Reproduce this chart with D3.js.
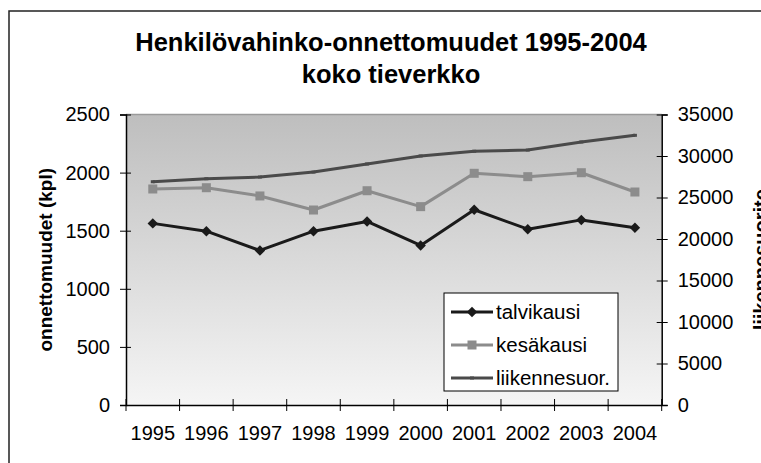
<!DOCTYPE html>
<html>
<head>
<meta charset="utf-8">
<script src="https://cdn.jsdelivr.net/npm/d3@7"></script>
<style>
  body { margin: 0; background: white; overflow: hidden; }
  svg { display: block; font-family: "Liberation Sans", Arial, sans-serif; }
</style>
</head>
<body>
<div id="chart"></div>
<script>
// data
const years = ["1995", "1996", "1997", "1998", "1999", "2000", "2001", "2002", "2003", "2004"];
const talvikausi = [1563, 1496, 1330, 1496, 1580, 1373, 1680, 1513, 1593, 1525];
const kesakausi = [1859, 1870, 1799, 1678, 1844, 1707, 1994, 1965, 1999, 1833];
const liikennesuorite = [26900, 27260, 27470, 28070, 29040, 30000, 30570, 30720, 31690, 32490];
const leftTicks = [0, 500, 1000, 1500, 2000, 2500];
const rightTicks = [0, 5000, 10000, 15000, 20000, 25000, 30000, 35000];
const legendNames = ["talvikausi", "kesäkausi", "liikennesuor."];

const W = 761, H = 463;
const margin = { top: 114.5, left: 126, right: 99.3, bottom: 58 };
const width = W - margin.left - margin.right,
  height = H - margin.top - margin.bottom;

const svg = d3.select("#chart").append("svg")
  .attr("width", W)
  .attr("height", H);

// outer chart border (runs past the right and bottom edge)
svg.append("rect")
  .attr("x", 9).attr("y", 11)
  .attr("width", W + 20).attr("height", H + 20)
  .attr("fill", "white")
  .attr("stroke", "#222")
  .attr("stroke-width", 1.5);

// title
const title = svg.append("text")
  .attr("text-anchor", "middle")
  .attr("font-weight", "bold")
  .attr("font-size", "25.5px")
  .attr("fill", "#000");
title.append("tspan").attr("x", 391).attr("y", 51).text("Henkilövahinko-onnettomuudet 1995-2004");
title.append("tspan").attr("x", 391).attr("y", 83).text("koko tieverkko");

const g = svg.append("g").attr("transform", `translate(${margin.left},${margin.top})`);

// plot background gradient
const grad = svg.append("defs").append("linearGradient")
  .attr("id", "bg").attr("x1", 0).attr("y1", 0).attr("x2", 0).attr("y2", 1);
grad.append("stop").attr("offset", "0%").attr("stop-color", "#bebebe");
grad.append("stop").attr("offset", "100%").attr("stop-color", "#f5f5f5");

g.append("rect")
  .attr("width", width).attr("height", height)
  .attr("fill", "url(#bg)");
g.append("line")
  .attr("x1", 0).attr("x2", width).attr("y1", 0).attr("y2", 0)
  .attr("stroke", "#9a9a9a").attr("stroke-width", 1.5);

// scales
const x = d3.scaleBand().domain(years).range([0, width]).padding(0);
const cx = d => x(d) + x.bandwidth() / 2;
const yL = d3.scaleLinear().domain([0, 2500]).range([height, 0]);
const yR = d3.scaleLinear().domain([0, 35000]).range([height, 0]);

// left axis
const axL = g.append("g")
  .call(d3.axisLeft(yL).tickValues(leftTicks).tickFormat(d3.format("d")).tickSize(6).tickPadding(10));
axL.selectAll(".tick line").attr("x1", -6).attr("x2", 5);
// right axis
const axR = g.append("g").attr("transform", `translate(${width},0)`)
  .call(d3.axisRight(yR).tickValues(rightTicks).tickFormat(d3.format("d")).tickSize(6).tickPadding(10));
axR.selectAll(".tick line").attr("x1", -5).attr("x2", 6);
// bottom axis: labels at band centers, ticks on band edges
const axB = g.append("g").attr("transform", `translate(0,${height})`)
  .call(d3.axisBottom(x).tickSize(0).tickPadding(21));
axB.selectAll(".tick line").remove();
const edges = years.map(d => x(d)).concat([x.range()[1]]);
axB.selectAll(".edge").data(edges).join("line")
  .attr("class", "edge")
  .attr("x1", d => d).attr("x2", d => d)
  .attr("y1", -6).attr("y2", 6)
  .attr("stroke", "#000");

[axL, axR, axB].forEach(a => {
  a.select(".domain").attr("stroke", "#000").attr("stroke-width", 1.5);
  a.selectAll(".tick line").attr("stroke", "#000");
  a.selectAll("text").attr("font-size", "20px").attr("fill", "#000")
    .attr("font-family", "Liberation Sans, Arial, sans-serif");
});

// axis titles
svg.append("text")
  .attr("transform", `translate(52,${margin.top + height / 2}) rotate(-90)`)
  .attr("text-anchor", "middle")
  .attr("font-weight", "bold").attr("font-size", "19px")
  .text("onnettomuudet (kpl)");
svg.append("text")
  .attr("transform", `translate(768,${margin.top + height / 2}) rotate(-90)`)
  .attr("text-anchor", "middle")
  .attr("font-weight", "bold").attr("font-size", "20px")
  .text("liikennesuorite");

// series
const series = [
  { name: legendNames[0], values: talvikausi, y: yL, color: "#1a1a1a", marker: "diamond" },
  { name: legendNames[1], values: kesakausi, y: yL, color: "#8c8c8c", marker: "square" },
  { name: legendNames[2], values: liikennesuorite, y: yR, color: "#4a4a4a", marker: "dash" }
];

function drawMarker(sel, m, color) {
  if (m === "diamond") {
    sel.append("path").attr("d", d3.symbol(d3.symbolDiamond2, 70)()).attr("fill", color);
  } else if (m === "square") {
    sel.append("rect").attr("x", -4.5).attr("y", -4.5).attr("width", 9).attr("height", 9).attr("fill", color);
  } else {
    sel.append("rect").attr("x", -2).attr("y", -1.5).attr("width", 4).attr("height", 3).attr("fill", color);
  }
}

series.forEach(s => {
  const line = d3.line().x((d, i) => cx(years[i])).y(d => s.y(d));
  g.append("path")
    .datum(s.values)
    .attr("d", line)
    .attr("fill", "none")
    .attr("stroke", s.color)
    .attr("stroke-width", 3)
    .attr("stroke-linejoin", "round");
  g.selectAll(null).data(s.values).join("g")
    .attr("transform", (d, i) => `translate(${cx(years[i])},${s.y(d)})`)
    .each(function () { drawMarker(d3.select(this), s.marker, s.color); });
});

// legend
const leg = svg.append("g").attr("transform", "translate(444,293)");
leg.append("rect")
  .attr("width", 174).attr("height", 98)
  .attr("fill", "white").attr("stroke", "#000").attr("stroke-width", 1);
series.forEach((s, i) => {
  const row = leg.append("g").attr("transform", `translate(0,${19 + i * 33})`);
  row.append("line").attr("x1", 7).attr("x2", 49).attr("y1", 0).attr("y2", 0)
    .attr("stroke", s.color).attr("stroke-width", 3);
  drawMarker(row.append("g").attr("transform", "translate(28,0)"), s.marker, s.color);
  row.append("text").attr("x", 52).attr("y", 7)
    .attr("font-size", "20.5px").attr("fill", "#000")
    .text(s.name);
});
</script>
</body>
</html>
